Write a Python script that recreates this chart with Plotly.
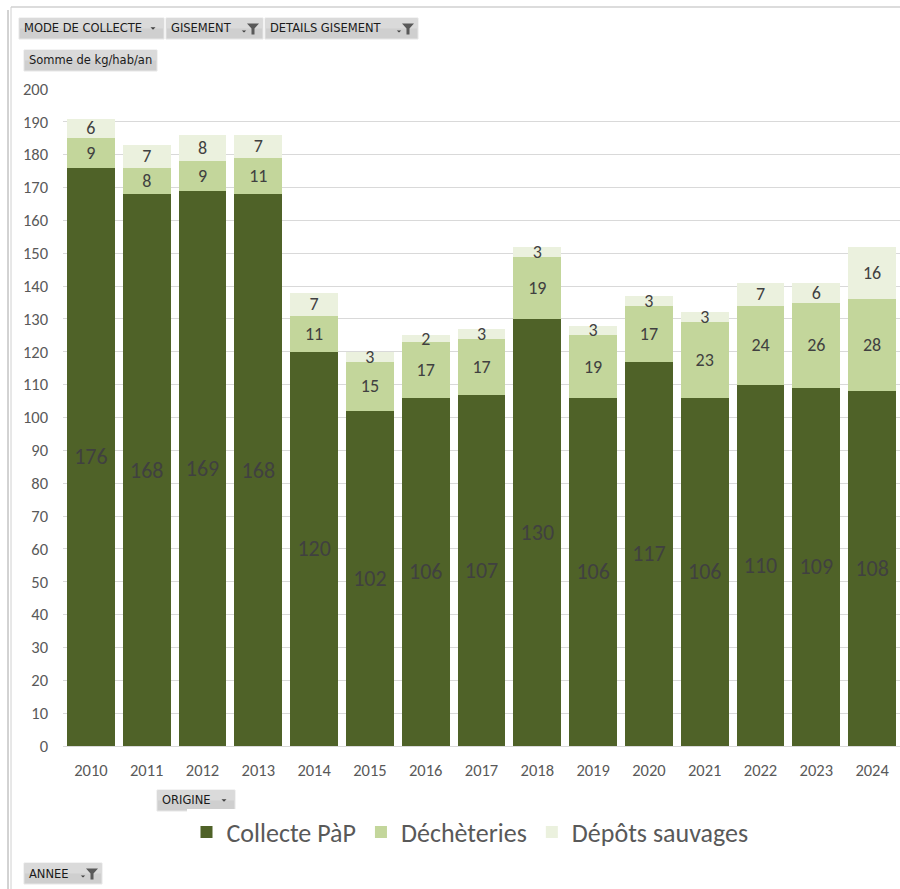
import plotly.graph_objects as go

years = [str(y) for y in range(2010, 2025)]
collecte = [176, 168, 169, 168, 120, 102, 106, 107, 130, 106, 117, 106, 110, 109, 108]
decheteries = [9, 8, 9, 11, 11, 15, 17, 17, 19, 19, 17, 23, 24, 26, 28]
depots = [6, 7, 8, 7, 7, 3, 2, 3, 3, 3, 3, 3, 7, 6, 16]
series_names = ["Collecte PàP", "Déchèteries", "Dépôts sauvages"]
y_ticks = list(range(0, 201, 10))

W, H = 900, 889
ML, MR, MT, MB = 63, 0, 89, 143
PW = W - ML - MR
PH = H - MT - MB


def px(x):
    return (x - ML) / PW


def py(y):
    return (H - MB - y) / PH


FONT = "Carlito, Lato, sans-serif"
BTN_FONT = "DejaVu Sans, Liberation Sans, sans-serif"
LABEL_COLOR = "#404040"

fig = go.Figure()
colors = ["#4F6228", "#C3D69B", "#EBF1DE"]
sizes = [22, 18, 18]
for name, vals, col, fs in zip(series_names, [collecte, decheteries, depots], colors, sizes):
    fig.add_trace(go.Bar(
        x=years, y=vals, name=name,
        marker=dict(color=col, line=dict(width=0)),
        text=[str(v) for v in vals],
        textposition="inside", insidetextanchor="middle",
        textangle=0, constraintext="none", cliponaxis=False,
        textfont=dict(family=FONT, size=fs, color=LABEL_COLOR),
        hoverinfo="skip",
    ))

shapes = []
annotations = []

# frame lines
shapes.append(dict(type="line", xref="paper", yref="paper", x0=px(8), x1=px(8), y0=py(10), y1=py(889),
                   line=dict(color="#a6a6a6", width=1)))
shapes.append(dict(type="line", xref="paper", yref="paper", x0=px(11), x1=px(11), y0=py(7), y1=py(889),
                   line=dict(color="#d0d0d0", width=1)))
shapes.append(dict(type="line", xref="paper", yref="paper", x0=px(11), x1=px(900), y0=py(7), y1=py(7),
                   line=dict(color="#d0d0d0", width=1.5)))


def funnel(xc, yc):
    pts = [(xc - 6, yc - 5), (xc + 6, yc - 5), (xc + 1.5, yc), (xc + 1.5, yc + 6), (xc - 1.5, yc + 6), (xc - 1.5, yc)]
    path = "M " + " L ".join(f"{px(a):.5f},{py(b):.5f}" for a, b in pts) + " Z"
    shapes.append(dict(type="path", xref="paper", yref="paper", path=path,
                       fillcolor="#595959", line=dict(width=0)))


def tri(xc, yc, s=3):
    pts = [(xc - s, yc - s / 2), (xc + s, yc - s / 2), (xc, yc + s / 2)]
    path = "M " + " L ".join(f"{px(a):.5f},{py(b):.5f}" for a, b in pts) + " Z"
    shapes.append(dict(type="path", xref="paper", yref="paper", path=path,
                       fillcolor="#404040", line=dict(width=0)))


def button(x0, x1, y0, y1, label, kind):
    shapes.append(dict(type="rect", xref="paper", yref="paper", x0=px(x0), x1=px(x1), y0=py(y1), y1=py(y0),
                       fillcolor="#cfcfcf", line=dict(color="#e6e6e6", width=1)))
    shapes.append(dict(type="rect", xref="paper", yref="paper", x0=px(x0 + 1), x1=px(x1 - 1),
                       y0=py((y0 + y1) / 2), y1=py(y0 + 1),
                       fillcolor="#dadada", line=dict(width=0)))
    annotations.append(dict(xref="paper", yref="paper", x=px(x0 + 3), y=py((y0 + y1) / 2),
                            xanchor="left", yanchor="middle", showarrow=False, text=label,
                            font=dict(family=BTN_FONT, size=11.5, color="#1a1a1a")))
    if kind == "drop":
        tri(x1 - 11, (y0 + y1) / 2, 2.5)
    elif kind == "filter":
        funnel(x1 - 10, (y0 + y1) / 2)
        tri(x1 - 19, (y0 + y1) / 2 + 3, 2.2)


button(19, 164, 18, 39, "MODE DE COLLECTE", "drop")
button(166, 263, 18, 39, "GISEMENT", "filter")
button(265, 418, 18, 39, "DETAILS GISEMENT", "filter")
button(24, 157, 50, 71, "Somme de kg/hab/an", None)
button(157, 235, 790, 811, "ORIGINE", "drop")
button(24, 102, 863, 884, "ANNEE", "filter")

fig.update_layout(
    width=W, height=H,
    margin=dict(l=ML, r=MR, t=MT, b=MB, pad=0),
    paper_bgcolor="white", plot_bgcolor="white",
    barmode="stack", bargap=0.14,
    showlegend=True,
    legend=dict(orientation="h", x=px(470), xanchor="center", y=py(832), yanchor="middle",
                font=dict(family=FONT, size=26, color="#595959"), itemclick=False,
                traceorder="normal"),
    xaxis=dict(type="category", tickfont=dict(family=FONT, size=16.5, color="#595959"),
               showgrid=False, showline=False, ticks="", ticklabelstandoff=12, fixedrange=True),
    yaxis=dict(range=[0, 200], tickvals=y_ticks, ticktext=[str(v) for v in y_ticks],
               tickfont=dict(family=FONT, size=16.5, color="#595959"),
               showgrid=True, gridcolor="#d9d9d9", gridwidth=1, zeroline=True,
               zerolinecolor="#d9d9d9", zerolinewidth=1, showline=False, ticks="",
               ticklabelstandoff=14, fixedrange=True),
    shapes=shapes, annotations=annotations,
)

fig.write_html("out.html", config={"displayModeBar": False, "staticPlot": False},
               post_script="document.body.style.margin='0';document.body.style.overflow='hidden';")
